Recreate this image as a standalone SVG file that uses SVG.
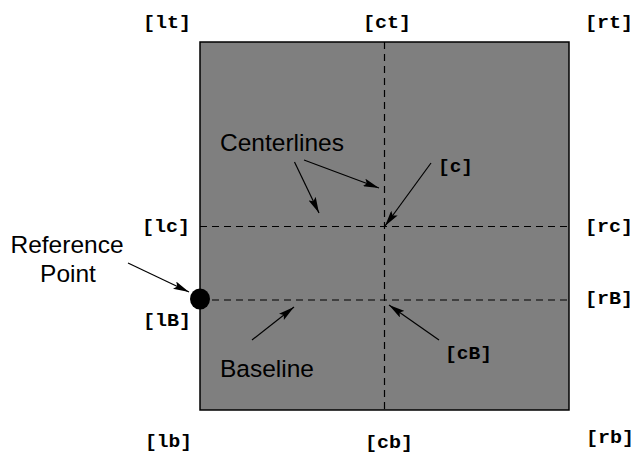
<svg xmlns="http://www.w3.org/2000/svg" width="638" height="455" viewBox="0 0 638 455">
<style>
.code{font-family:"Liberation Mono","Courier New",monospace;font-weight:bold;font-size:19px;fill:#000}
.lbl{font-family:"Liberation Sans",Arial,sans-serif;font-size:24.5px;fill:#000}
.dash{stroke:#000;stroke-width:1.2;stroke-dasharray:7,5;fill:none}
.arr{stroke:#000;stroke-width:1.2;fill:none;marker-end:url(#ah)}
</style>
<defs>
<marker id="ah" viewBox="0 0 16 8" refX="16" refY="4" markerWidth="16" markerHeight="8" markerUnits="userSpaceOnUse" orient="auto">
<path d="M0,0 L16,4 L0,8 L3,4 Z" fill="#000"/>
</marker>
</defs>
<g id="box">
<rect x="200" y="42" width="369" height="368" fill="#7f7f7f" stroke="#000" stroke-width="1.5"/>
</g>
<g id="guides">
<line class="dash" x1="384.5" y1="42" x2="384.5" y2="410"/>
<line class="dash" x1="200" y1="226.5" x2="569" y2="226.5"/>
<line class="dash" x1="200" y1="300" x2="569" y2="300"/>
</g>
<g id="refpoint">
<ellipse cx="200" cy="299" rx="10" ry="10.5" fill="#000"/>
</g>
<g id="connectors">
<line class="arr" x1="304" y1="160" x2="379" y2="188"/>
<line class="arr" x1="294.5" y1="162" x2="319" y2="213"/>
<line class="arr" x1="431" y1="163" x2="385" y2="226"/>
<line class="arr" x1="128" y1="263" x2="189" y2="292"/>
<line class="arr" x1="252" y1="340" x2="294" y2="307"/>
<line class="arr" x1="439" y1="340" x2="389" y2="305"/>
</g>
<g id="labels">
<text class="code" x="143" y="28" textLength="48" lengthAdjust="spacingAndGlyphs">[lt]</text>
<text class="code" x="363" y="28" textLength="48" lengthAdjust="spacingAndGlyphs">[ct]</text>
<text class="code" x="585" y="28" textLength="48" lengthAdjust="spacingAndGlyphs">[rt]</text>
<text class="code" x="142" y="232" textLength="48" lengthAdjust="spacingAndGlyphs">[lc]</text>
<text class="code" x="585" y="232" textLength="48" lengthAdjust="spacingAndGlyphs">[rc]</text>
<text class="code" x="143" y="326" textLength="48" lengthAdjust="spacingAndGlyphs">[lB]</text>
<text class="code" x="585" y="304" textLength="48" lengthAdjust="spacingAndGlyphs">[rB]</text>
<text class="code" x="145" y="447" textLength="47" lengthAdjust="spacingAndGlyphs">[lb]</text>
<text class="code" x="365" y="448" textLength="48" lengthAdjust="spacingAndGlyphs">[cb]</text>
<text class="code" x="586" y="443" textLength="48" lengthAdjust="spacingAndGlyphs">[rb]</text>
<text class="code" x="438" y="172" textLength="35" lengthAdjust="spacingAndGlyphs">[c]</text>
<text class="code" x="445" y="359" textLength="47" lengthAdjust="spacingAndGlyphs">[cB]</text>
<text class="lbl" x="220" y="151">Centerlines</text>
<text class="lbl" x="67" y="253" text-anchor="middle">Reference</text>
<text class="lbl" x="68" y="282" text-anchor="middle">Point</text>
<text class="lbl" x="220" y="377">Baseline</text>
</g>
</svg>
